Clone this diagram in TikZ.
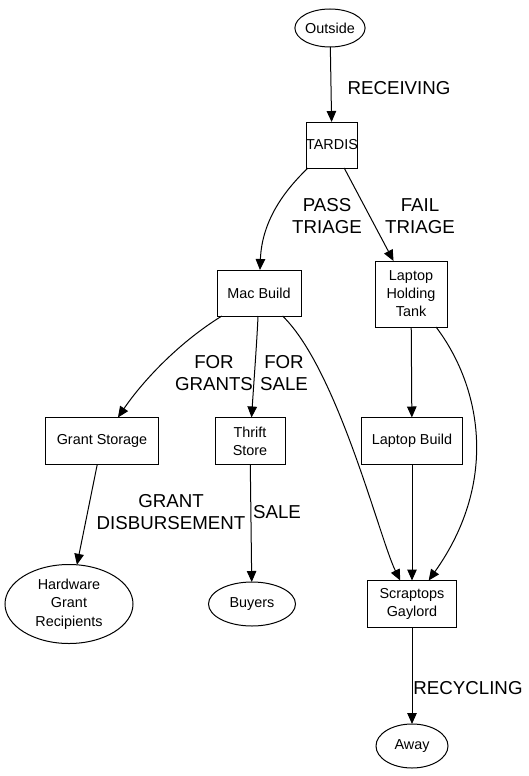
\documentclass[tikz,border=0pt]{standalone}
\usepackage{fontspec}
\setmainfont{Liberation Sans}
\usetikzlibrary{arrows.meta,shapes.geometric}
\begin{document}
\begin{tikzpicture}[x=1pt,y=-1pt,
  every node/.style={inner sep=0pt,outer sep=0pt},
  box/.style={draw,line width=1pt,rectangle,align=center,font=\fontsize{14.4}{18}\selectfont},
  oval/.style={draw,line width=1pt,ellipse,align=center,font=\fontsize{14.4}{18.5}\selectfont},
  lbl/.style={align=center,font=\fontsize{18.7}{22}\selectfont},
  edge/.style={draw,line width=1pt,-{Triangle[length=11pt,width=9.5pt]}}]
\useasboundingbox (0,0) rectangle (529,776);
% nodes
\node[oval,minimum width=62pt,minimum height=38pt] (outside) at (330,28) {Outside};
\node[box,minimum width=48pt,minimum height=46pt] (tardis) at (332,145) {TARDIS};
\node[box,minimum width=84pt,minimum height=46pt] (mac) at (259,293) {Mac Build};
\node[box,minimum width=72pt,minimum height=66pt] (tank) at (411,294) {Laptop\\Holding\\Tank};
\node[box,minimum width=113pt,minimum height=47pt] (grant) at (102,441) {Grant Storage};
\node[box,minimum width=70pt,minimum height=47pt] (thrift) at (250,441) {Thrift\\Store};
\node[box,minimum width=101pt,minimum height=47pt] (lbuild) at (412,441) {Laptop Build};
\node[oval,minimum width=128pt,minimum height=79pt] (hgr) at (69,604) {Hardware\\Grant\\Recipients};
\node[oval,minimum width=87pt,minimum height=44pt] (buyers) at (252,604) {Buyers};
\node[box,minimum width=89pt,minimum height=47pt] (scrap) at (412,604) {Scraptops\\Gaylord};
\node[oval,minimum width=72pt,minimum height=44pt] (away) at (412,746) {Away};
% edges
\path[edge] (outside) -- (tardis);
\path[edge] (tardis) .. controls (285,190) and (262,220) .. (mac);
\path[edge] (tardis) -- (tank);
\path[edge] (mac) .. controls (175,345) and (140,385) .. (grant);
\path[edge] (mac) .. controls (257,340) and (254,380) .. (thrift);
\path[edge] (mac) .. controls (338,370) and (380,540) .. (scrap);
\path[edge] (tank) -- (lbuild);
\path[edge] (tank) .. controls (480,385) and (500,480) .. (scrap);
\path[edge] (lbuild) -- (scrap);
\path[edge] (grant) -- (hgr);
\path[edge] (thrift) -- (buyers);
\path[edge] (scrap) -- (away);
% labels
\node[lbl] (lrecv) at (399,88) {RECEIVING};
\node[lbl] (lpass) at (327,216) {PASS\\TRIAGE};
\node[lbl] (lfail) at (420,216) {FAIL\\TRIAGE};
\node[lbl] (lgrants) at (214,373) {FOR\\GRANTS};
\node[lbl] (lsale) at (284,373) {FOR\\SALE};
\node[lbl] (ldisb) at (171,512) {GRANT\\DISBURSEMENT};
\node[lbl] (lsale2) at (277,512) {SALE};
\node[lbl] (lrecy) at (468,688) {RECYCLING};
\end{tikzpicture}
\end{document}
